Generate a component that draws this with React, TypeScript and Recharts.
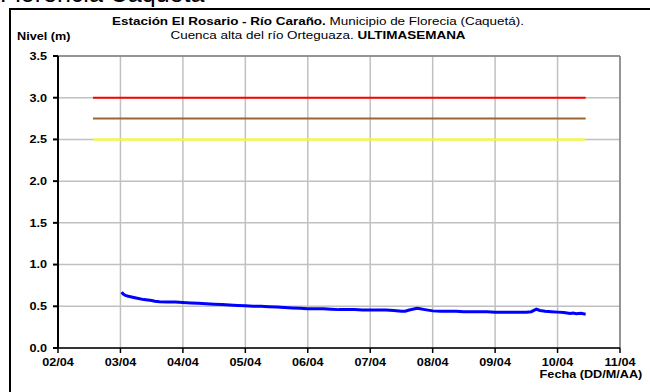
import React from "react";
import { ComposedChart, Line, XAxis, YAxis, CartesianGrid, ReferenceLine } from "recharts";

// Days since 02/04 00:00
const dayTicks = [0, 1, 2, 3, 4, 5, 6, 7, 8, 9];
const dayLabels = ["02/04", "03/04", "04/04", "05/04", "06/04", "07/04", "08/04", "09/04", "10/04", "11/04"];
const levelTicks = [0, 0.5, 1, 1.5, 2, 2.5, 3, 3.5];

const levelTimes = [
  1.02, 1.04, 1.08, 1.125, 1.25, 1.375, 1.5, 1.55, 1.625, 1.75, 1.875, 2.0, 2.125, 2.25, 2.375, 2.5,
  2.625, 2.75, 2.875, 3.0, 3.125, 3.25, 3.375, 3.5, 3.625, 3.75, 3.875, 4.0, 4.125, 4.25, 4.375, 4.5,
  4.625, 4.75, 4.875, 5.0, 5.125, 5.25, 5.375, 5.5, 5.56, 5.625, 5.75, 5.8, 5.875, 6.0, 6.125, 6.25,
  6.375, 6.5, 6.625, 6.75, 6.875, 7.0, 7.125, 7.25, 7.375, 7.5, 7.58, 7.66, 7.72, 7.8, 7.9, 8.0,
  8.1, 8.2, 8.25, 8.3, 8.375, 8.45,
];
const levelValues = [
  0.67, 0.65, 0.63, 0.62, 0.6, 0.58, 0.57, 0.56, 0.555, 0.55, 0.55, 0.545, 0.54, 0.535, 0.53, 0.525,
  0.52, 0.515, 0.51, 0.505, 0.5, 0.5, 0.495, 0.49, 0.485, 0.48, 0.475, 0.47, 0.47, 0.47, 0.465, 0.46,
  0.46, 0.46, 0.455, 0.455, 0.455, 0.455, 0.45, 0.44, 0.44, 0.455, 0.475, 0.47, 0.46, 0.445, 0.44, 0.44,
  0.44, 0.435, 0.435, 0.435, 0.435, 0.43, 0.43, 0.43, 0.43, 0.43, 0.435, 0.465, 0.45, 0.44, 0.435, 0.43,
  0.425, 0.415, 0.42, 0.41, 0.415, 0.405,
];

const thresholdTimes = [0.56, 8.45];
const redLevel = 3.0;
const brownLevel = 2.75;
const yellowLevel = 2.5;

const levelData = levelTimes.map((t, i) => ({ t, v: levelValues[i] }));
const redData = thresholdTimes.map((t) => ({ t, v: redLevel }));
const brownData = thresholdTimes.map((t) => ({ t, v: brownLevel }));
const yellowData = thresholdTimes.map((t) => ({ t, v: yellowLevel }));

const FONT = "'Liberation Sans', Arial, sans-serif";
const SX = 1.15;

const XTick = (props: any) => {
  const { x, y, payload } = props;
  return (
    <g transform={`translate(${x},${y})`}>
      <text transform={`scale(${SX},1)`} x={0} y={0} dy="0.71em" textAnchor="middle" fontSize={11} fontWeight="bold" fill="#000" fontFamily={FONT}>
        {dayLabels[Math.round(payload.value)]}
      </text>
    </g>
  );
};

const YTick = (props: any) => {
  const { x, y, payload } = props;
  return (
    <g transform={`translate(${x},${y})`}>
      <text transform={`scale(${SX},1)`} x={0} y={0} dy="0.355em" textAnchor="end" fontSize={11} fontWeight="bold" fill="#000" fontFamily={FONT}>
        {Number(payload.value).toFixed(1)}
      </text>
    </g>
  );
};

export default function App() {
  return (
    <div style={{ position: "absolute", left: 0, top: 0, width: 650, height: 392, overflow: "hidden", background: "#fff", fontFamily: FONT }}>
      <div style={{ position: "absolute", left: 0, top: -21, fontSize: 25, fontFamily: FONT, color: "#000", whiteSpace: "nowrap", lineHeight: "28px" }}>
        Florencia Caquetá
      </div>
      <div style={{ position: "absolute", left: 9, top: 8, width: 700, height: 400, border: "2px solid #000", boxSizing: "border-box" }} />
      <div style={{ position: "absolute", left: 0, top: 0 }}>
        <ComposedChart width={650} height={392} margin={{ top: 56, right: 30, bottom: 14, left: 8 }}>
          <CartesianGrid stroke="#C0C0C0" strokeWidth={1.5} />
          <XAxis
            dataKey="t"
            type="number"
            domain={[0, 9]}
            ticks={dayTicks}
            allowDataOverflow
            stroke="#000"
            strokeWidth={1.5}
            tickSize={5}
            tickMargin={5}
            height={30}
            tick={<XTick />}
          />
          <YAxis
            type="number"
            domain={[0, 3.5]}
            ticks={levelTicks}
            stroke="#000"
            strokeWidth={2}
            tickSize={5}
            tickMargin={6}
            width={50}
            tick={<YTick />}
          />
          <ReferenceLine y={3.5} stroke="#808080" strokeWidth={1.5} />
          <ReferenceLine x={9} stroke="#808080" strokeWidth={1.5} />
          <Line data={redData} dataKey="v" stroke="#FF0000" strokeWidth={2} dot={false} isAnimationActive={false} />
          <Line data={brownData} dataKey="v" stroke="#996633" strokeWidth={2} dot={false} isAnimationActive={false} />
          <Line data={yellowData} dataKey="v" stroke="#FFFF00" strokeWidth={2} dot={false} isAnimationActive={false} />
          <Line data={levelData} dataKey="v" stroke="#0000FF" strokeWidth={3} dot={false} isAnimationActive={false} />
        </ComposedChart>
      </div>
      <div style={{ position: "absolute", left: 118, width: 400, top: 14, textAlign: "center", fontSize: 11.5, lineHeight: "14px", color: "#000", transform: "scaleX(1.17)", transformOrigin: "center", whiteSpace: "nowrap" }}>
        <div><b>Estación El Rosario - Río Caraño.</b> Municipio de Florecia (Caquetá).</div>
        <div>Cuenca alta del río Orteguaza. <b>ULTIMASEMANA</b></div>
      </div>
      <div style={{ position: "absolute", left: 17, top: 30, fontSize: 11, fontWeight: "bold", color: "#000", transform: `scaleX(${SX})`, transformOrigin: "left", whiteSpace: "nowrap" }}>Nivel (m)</div>
      <div style={{ position: "absolute", right: 8, top: 368, fontSize: 11, fontWeight: "bold", color: "#000", transform: `scaleX(${SX})`, transformOrigin: "right", whiteSpace: "nowrap" }}>Fecha (DD/M/AA)</div>
    </div>
  );
}
